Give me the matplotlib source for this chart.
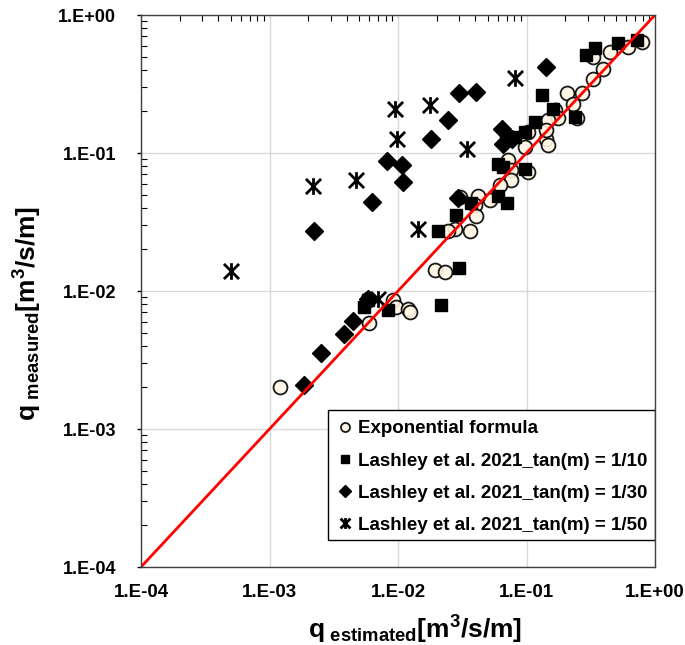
import matplotlib
matplotlib.use("Agg")
import matplotlib.pyplot as plt
from matplotlib.path import Path
from matplotlib.patches import Rectangle
from matplotlib.ticker import FixedLocator, FixedFormatter, LogLocator, NullFormatter

plt.rcParams['font.family'] = ['Liberation Sans', 'DejaVu Sans']
plt.rcParams['font.weight'] = 'bold'
plt.rcParams['mathtext.fontset'] = 'custom'
plt.rcParams['mathtext.rm'] = 'Liberation Sans:bold'
plt.rcParams['mathtext.it'] = 'Liberation Sans:bold'
plt.rcParams['mathtext.bf'] = 'Liberation Sans:bold'
plt.rcParams['mathtext.default'] = 'rm'

# Exponential formula
est_exp = [0.787, 0.62, 0.446, 0.33, 0.396, 0.33, 0.268, 0.205, 0.231, 0.166,
           0.245, 0.177, 0.148, 0.143, 0.148, 0.143, 0.103, 0.097, 0.072, 0.103,
           0.076, 0.076, 0.062, 0.0518, 0.042, 0.0396, 0.0408, 0.0303, 0.0363, 0.0277,
           0.0245, 0.0193, 0.0231, 0.0012, 0.0060, 0.00584, 0.00914, 0.0097, 0.012, 0.0123]
meas_exp = [0.633, 0.589, 0.542, 0.498, 0.403, 0.341, 0.274, 0.27, 0.226, 0.204,
            0.178, 0.178, 0.173, 0.127, 0.114, 0.146, 0.142, 0.111, 0.0885, 0.0728,
            0.0748, 0.0633, 0.0582, 0.0453, 0.0492, 0.0417, 0.0352, 0.0479, 0.0274, 0.0282,
            0.0274, 0.0141, 0.0137, 0.00203, 0.00586, 0.0088, 0.00865, 0.00765, 0.00744, 0.00704]

# Lashley et al. 2021, tan(m) = 1/10
est_10 = [0.72, 0.518, 0.34, 0.293, 0.131, 0.161, 0.238, 0.116, 0.097, 0.081, 0.0698, 0.0602,
          0.0658, 0.097, 0.0602, 0.0711, 0.0368, 0.0285, 0.0205, 0.0299, 0.0218, 0.00836, 0.00543, 0.0058]
meas_10 = [0.658, 0.622, 0.573, 0.512, 0.262, 0.21, 0.183, 0.168, 0.142, 0.131, 0.127, 0.0837,
           0.079, 0.0769, 0.0492, 0.0434, 0.0434, 0.0358, 0.0274, 0.0146, 0.00787, 0.00724, 0.00765, 0.0086]

# tan(m) = 1/30
est_30 = [0.1415, 0.0408, 0.0297, 0.0245, 0.018, 0.0646, 0.0658, 0.077, 0.00826, 0.0108,
          0.011, 0.00627, 0.0294, 0.0022, 0.00446, 0.00379, 0.00253, 0.00184, 0.0058]
meas_30 = [0.417, 0.277, 0.27, 0.173, 0.127, 0.150, 0.117, 0.127, 0.0875, 0.0813,
           0.0615, 0.0441, 0.0471, 0.0271, 0.00605, 0.0049, 0.00356, 0.00207, 0.0088]

# tan(m) = 1/50
est_50 = [0.081, 0.0177, 0.00953, 0.00989, 0.0347, 0.00218, 0.00468, 0.0142, 0.000502, 0.00698]
meas_50 = [0.347, 0.224, 0.208, 0.127, 0.107, 0.0573, 0.0633, 0.0282, 0.0139, 0.0088]

decades = [1e-4, 1e-3, 1e-2, 1e-1, 1e0]
decade_labels = ['1.E-04', '1.E-03', '1.E-02', '1.E-01', '1.E+00']

# excel-like star: X with a vertical bar
star = Path([(-1, -1), (1, 1), (-1, 1), (1, -1), (0, -1.1), (0, 1.1)],
            [Path.MOVETO, Path.LINETO, Path.MOVETO, Path.LINETO, Path.MOVETO, Path.LINETO])

fig = plt.figure(figsize=(6.85, 6.45), dpi=100)
ax = fig.add_axes([141 / 685, 78 / 645, 514 / 685, 552 / 645])
ax.set_xscale('log')
ax.set_yscale('log')
ax.set_xlim(1e-4, 1)
ax.set_ylim(1e-4, 1)

ax.grid(True, which='major', color='#d9d9d9', linewidth=1.0, zorder=0)
ax.set_axisbelow(True)

ax.plot(est_exp, meas_exp, 'o', ms=10, mfc='#fff6e3', mec='black', mew=1.3, alpha=0.9,
        label='Exponential formula', zorder=3)
ax.plot(est_10, meas_10, 's', ms=8.5, mfc='black', mec='black',
        label='Lashley et al. 2021_tan(m) = 1/10', zorder=4)
ax.plot(est_30, meas_30, 'D', ms=9, mfc='black', mec='black',
        label='Lashley et al. 2021_tan(m) = 1/30', zorder=4)
ax.plot(est_50, meas_50, ls='none', marker=star, ms=12, mec='black', mew=2.0,
        label='Lashley et al. 2021_tan(m) = 1/50', zorder=4)

# 1:1 line
ax.plot([decades[0], decades[-1]], [decades[0], decades[-1]], color='#ff0000', lw=2, zorder=5)

for axis in (ax.xaxis, ax.yaxis):
    axis.set_major_locator(FixedLocator(decades))
    axis.set_major_formatter(FixedFormatter(decade_labels))
    axis.set_minor_locator(LogLocator(base=10, subs=range(2, 10), numticks=20))
    axis.set_minor_formatter(NullFormatter())

ax.tick_params(axis='y', which='major', direction='out', length=3, width=1, pad=15, labelsize=13)
ax.tick_params(axis='y', which='minor', direction='in', length=4, width=0.8)
ax.tick_params(axis='x', which='major', direction='out', length=0, pad=12, labelsize=13.5)
ax.tick_params(axis='x', which='minor', direction='in', length=4, width=0.8,
               bottom=False, top=True)

for sp in ax.spines.values():
    sp.set_color('#404040')
    sp.set_linewidth(1.0)
    sp.set_zorder(7)

fig.text(415 / 685, 1 - 630 / 645, r'q$_{\ estimated}$[m$^3$/s/m]', ha='center', va='center',
         fontsize=19)
fig.text(28 / 685, 1 - 313 / 645, r'q$_{\ measured}$[m$^3$/s/m]', ha='center', va='center',
         fontsize=19, rotation=90)

# legend box runs up to the right spine, as in the excel chart
box = Rectangle(((328 - 141) / 514, (567 - 540) / 552), (655 - 328) / 514, 130 / 552,
                transform=ax.transAxes, facecolor='white', edgecolor='black', lw=1.0, zorder=6)
ax.add_patch(box)

leg = ax.legend(loc='upper left', bbox_to_anchor=((328 - 141) / 514, (567 - 410) / 552),
                fontsize=13.5, frameon=False,
                markerscale=0.65, handlelength=0.75, handletextpad=0.3,
                labelspacing=0.8, borderpad=0.55, borderaxespad=0)
leg.set_zorder(6.5)

fig.savefig('out.png', dpi=100)
